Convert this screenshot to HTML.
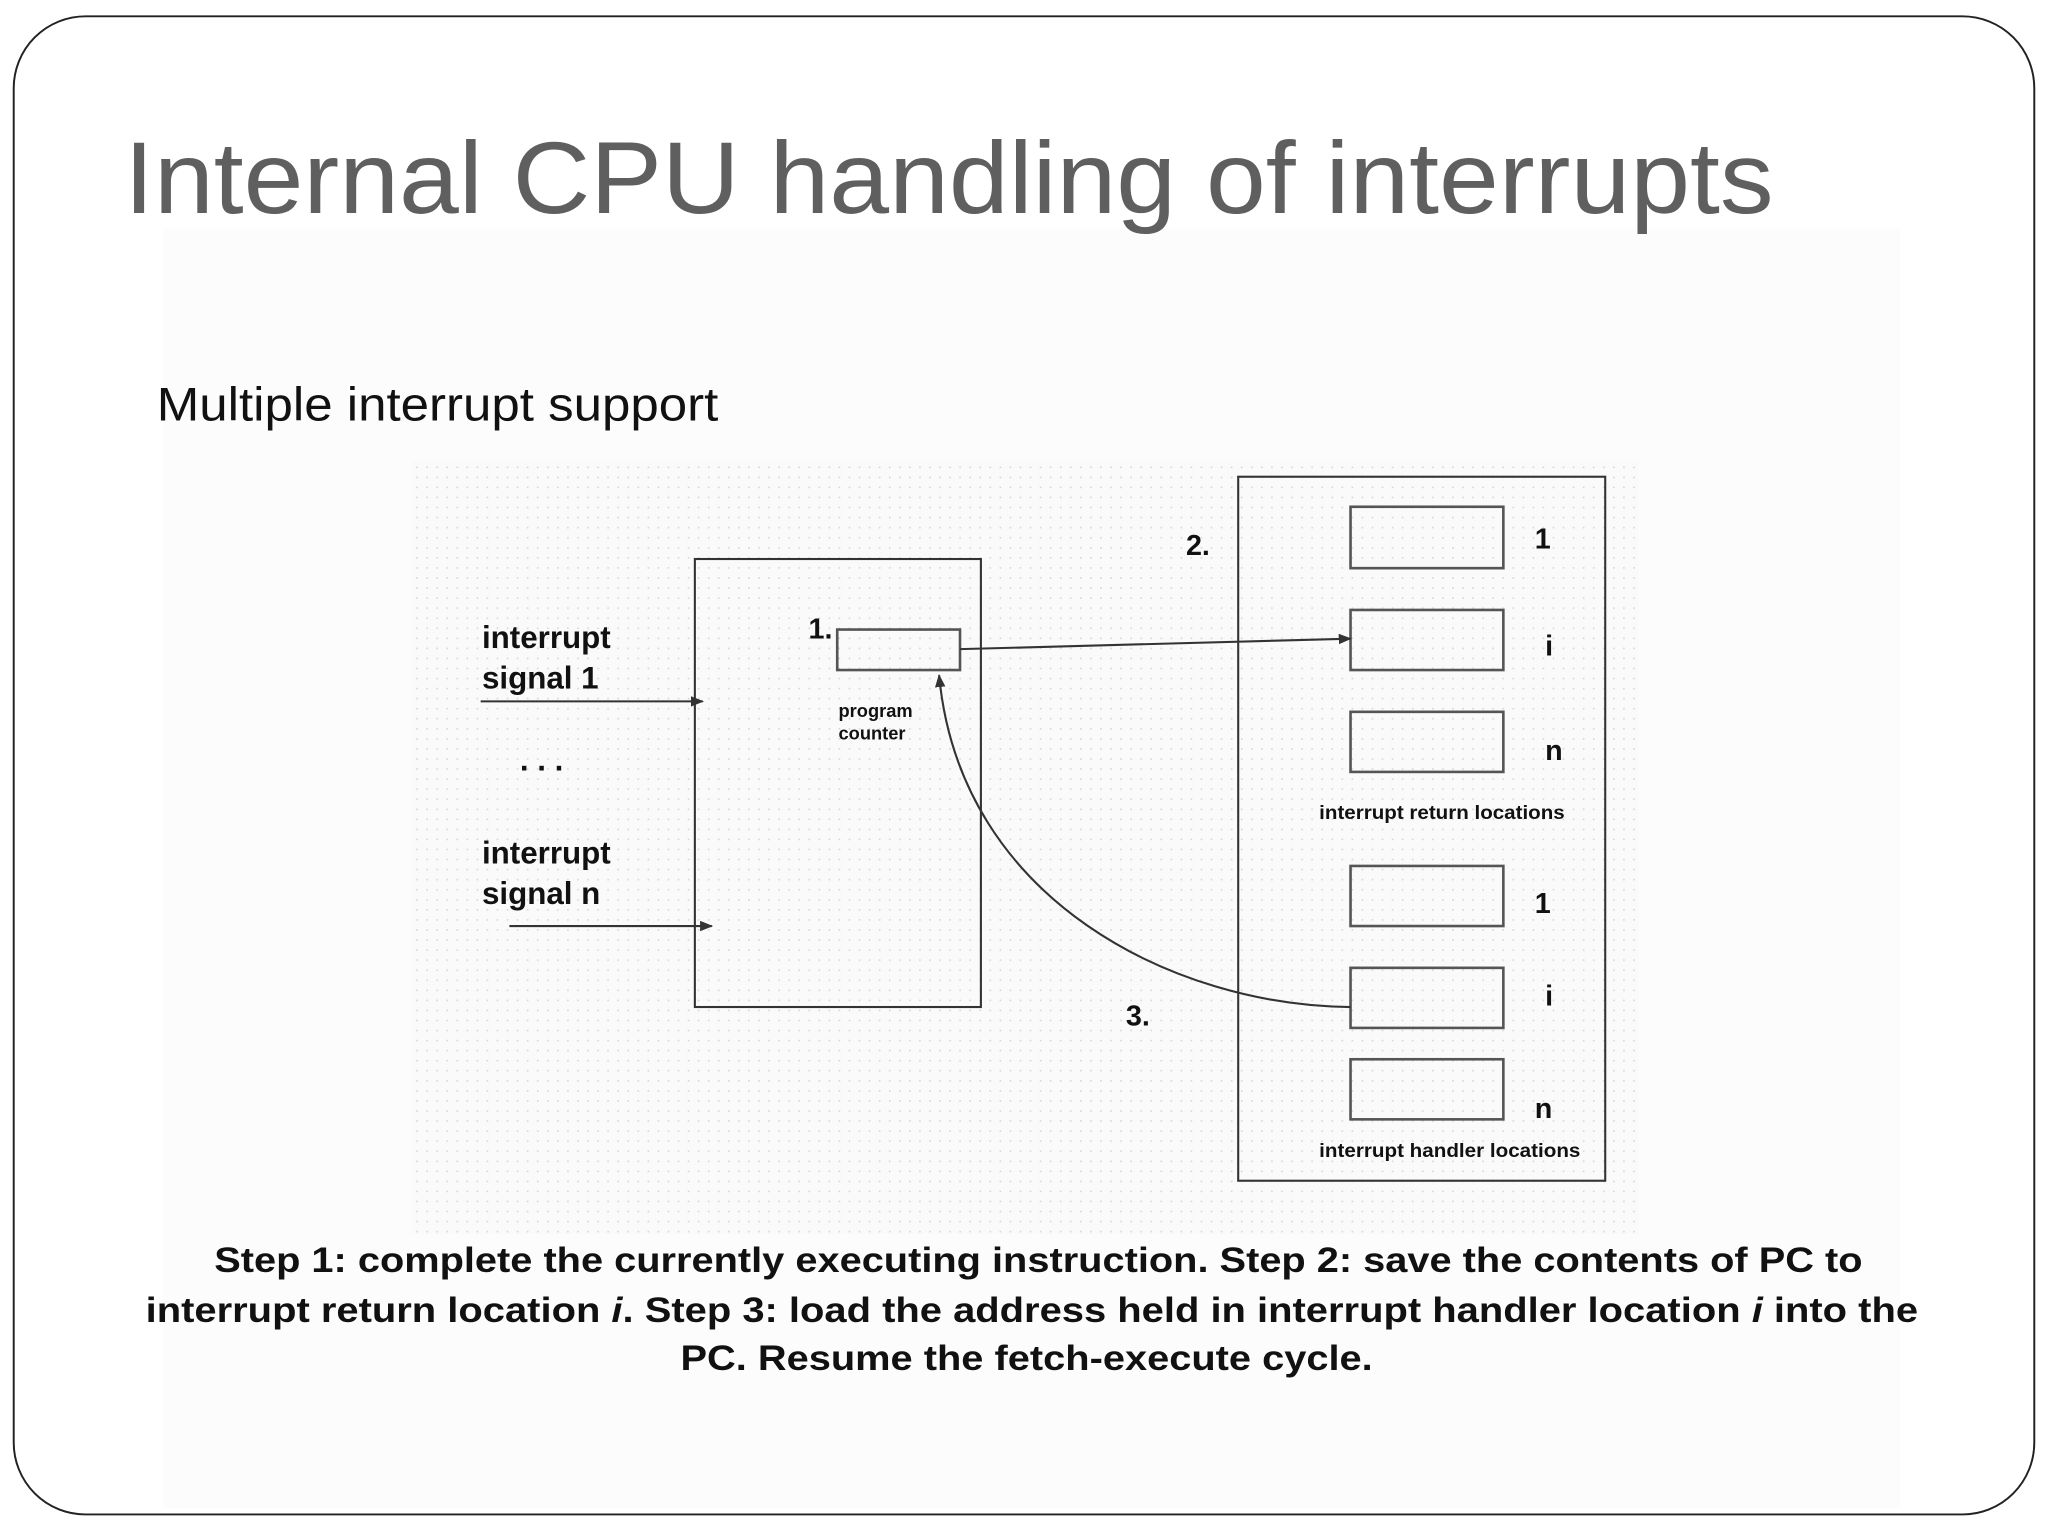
<!DOCTYPE html>
<html><head><meta charset="utf-8"><style>
html,body{margin:0;padding:0;background:#fff;}
svg{display:block;}
</style></head><body>
<svg width="2048" height="1536" viewBox="0 0 1568 1176" xmlns="http://www.w3.org/2000/svg">
<defs>
<pattern id="dots" x="0" y="0" width="7.7" height="7.7" patternUnits="userSpaceOnUse">
<rect x="3" y="3" width="1.2" height="1.2" fill="#d4d4d4"/>
</pattern>
<marker id="ah" markerWidth="10" markerHeight="8" refX="9" refY="4" orient="auto" markerUnits="userSpaceOnUse">
<path d="M0,0 L10,4 L0,8 z" fill="#333"/>
</marker>
</defs>
<rect x="0" y="0" width="1568" height="1176" fill="#fff"/>
<rect x="125" y="175" width="1330" height="980" fill="#fcfcfc"/>
<rect x="10.5" y="12.5" width="1547" height="1147" rx="55" ry="55" fill="none" stroke="#222" stroke-width="1.5"/>
<text x="95" y="163" font-family="Liberation Sans, sans-serif" font-size="78" fill="#5f5f5f" textLength="1263" lengthAdjust="spacingAndGlyphs">Internal CPU handling of interrupts</text>
<text x="120" y="322" font-family="Liberation Sans, sans-serif" font-size="36" fill="#111" textLength="430" lengthAdjust="spacingAndGlyphs">Multiple interrupt support</text>

<rect x="315" y="352" width="940" height="593" fill="#fafafa"/>
<rect x="315" y="352" width="940" height="593" fill="url(#dots)"/>

<g fill="none" stroke="#333" stroke-width="1.6">
<rect x="532" y="428" width="219" height="343"/>
<rect x="641" y="482" width="94" height="31" stroke="#555" stroke-width="2"/>
<rect x="948" y="365" width="281" height="539"/>
<g stroke="#555" stroke-width="2">
<rect x="1034" y="388" width="117" height="47"/>
<rect x="1034" y="467" width="117" height="46"/>
<rect x="1034" y="545" width="117" height="46"/>
<rect x="1034" y="663" width="117" height="46"/>
<rect x="1034" y="741" width="117" height="46"/>
<rect x="1034" y="811" width="117" height="46"/>
</g>
<line x1="368" y1="537" x2="538" y2="537" marker-end="url(#ah)"/>
<line x1="390" y1="709" x2="545" y2="709" marker-end="url(#ah)"/>
<line x1="735" y1="497" x2="1034" y2="489" marker-end="url(#ah)"/>
<path d="M1034,771 C900,770 735,690 719,517" marker-end="url(#ah)"/>
</g>

<g font-family="Liberation Sans, sans-serif" font-weight="bold" fill="#111">
<text x="369" y="496" font-size="24">interrupt</text>
<text x="369" y="527" font-size="24">signal 1</text>
<text x="398" y="590" font-size="24">. . .</text>
<text x="369" y="661" font-size="24">interrupt</text>
<text x="369" y="692" font-size="24">signal n</text>
<text x="619" y="489" font-size="22">1.</text>
<text x="642" y="549" font-size="14">program</text>
<text x="642" y="566" font-size="14">counter</text>
<text x="908" y="425" font-size="22">2.</text>
<text x="862" y="785" font-size="22">3.</text>
<text x="1175" y="420" font-size="22">1</text>
<text x="1183" y="502" font-size="22">i</text>
<text x="1183" y="582" font-size="22">n</text>
<text x="1175" y="699" font-size="22">1</text>
<text x="1183" y="770" font-size="22">i</text>
<text x="1175" y="856" font-size="22">n</text>
<text x="1010" y="627" font-size="15" textLength="188" lengthAdjust="spacingAndGlyphs">interrupt return locations</text>
<text x="1010" y="886" font-size="15" textLength="200" lengthAdjust="spacingAndGlyphs">interrupt handler locations</text>
</g>

<g font-family="Liberation Sans, sans-serif" font-weight="bold" font-size="27" fill="#111" text-anchor="middle">
<text x="795" y="974" textLength="1262" lengthAdjust="spacingAndGlyphs">Step 1: complete the currently executing instruction. Step 2: save the contents of PC to</text>
<text x="790" y="1012" textLength="1357" lengthAdjust="spacingAndGlyphs">interrupt return location <tspan font-style="italic">i</tspan>. Step 3: load the address held in interrupt handler location <tspan font-style="italic">i</tspan> into the</text>
<text x="786" y="1049" textLength="530" lengthAdjust="spacingAndGlyphs">PC. Resume the fetch-execute cycle.</text>
</g>
</svg>
</body></html>
